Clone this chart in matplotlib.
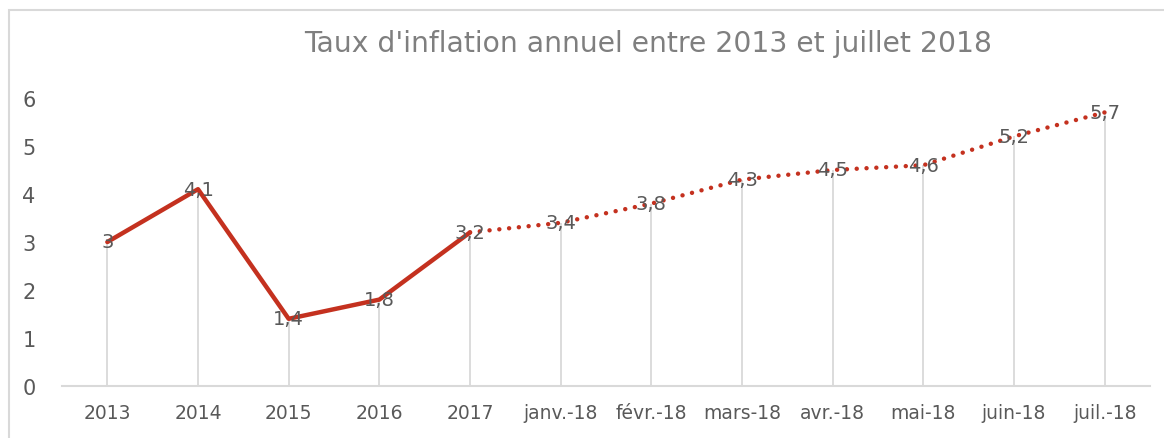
import matplotlib
matplotlib.use("Agg")
import matplotlib.pyplot as plt
from matplotlib.patches import Rectangle

categories = ["2013", "2014", "2015", "2016", "2017", "janv.-18", "févr.-18",
              "mars-18", "avr.-18", "mai-18", "juin-18", "juil.-18"]
values = [3, 4.1, 1.4, 1.8, 3.2, 3.4, 3.8, 4.3, 4.5, 4.6, 5.2, 5.7]
labels = ["3", "4,1", "1,4", "1,8", "3,2", "3,4", "3,8", "4,3", "4,5", "4,6", "5,2", "5,7"]
title = "Taux d'inflation annuel entre 2013 et juillet 2018"
split_index = 4  # solid up to 2017, dotted afterwards

W, H = 1164, 439
fig = plt.figure(figsize=(W / 100, H / 100), dpi=100)
plt.rcParams['font.family'] = ['DejaVu Sans']

# outer border
fig.patches.append(Rectangle((8.5 / W, -0.05), 1.2, (H - 10.5) / H + 0.05,
                             transform=fig.transFigure, fill=False,
                             edgecolor="#D9D9D9", linewidth=1.5))

ax = fig.add_axes([62 / W, 1 - 387 / H, (1150 - 62) / W, (387 - 99) / H])
x = list(range(len(categories)))
red = "#C4311F"
line_gray = "#D9D9D9"
text_gray = "#595959"

# drop lines
ax.vlines(x, 0, values, color=line_gray, linewidth=1.3, zorder=1)

ax.plot(x[:split_index + 1], values[:split_index + 1], color=red, linewidth=3.2,
        solid_capstyle="round", solid_joinstyle="round", zorder=3)
ax.plot(x[split_index:], values[split_index:], color=red, linewidth=3.2,
        linestyle=(0, (0.01, 2.2)), dash_capstyle="round", zorder=3)

for xi, v, lab in zip(x, values, labels):
    ax.text(xi, v, lab, ha="center", va="center", fontsize=14,
            color=text_gray, zorder=4)

ax.set_xlim(-0.5, len(categories) - 0.5)
ax.set_ylim(0, 6)
ax.set_xticks(x)
ax.set_xticklabels(categories, fontsize=13.5, color=text_gray)
ax.set_yticks(range(0, 7))
ax.set_yticklabels([str(i) for i in range(0, 7)], fontsize=15, color=text_gray)
ax.tick_params(axis="both", length=0)
ax.tick_params(axis="x", pad=12)
ax.tick_params(axis="y", pad=19)
for s in ["top", "right", "left"]:
    ax.spines[s].set_visible(False)
ax.spines["bottom"].set_color(line_gray)
ax.spines["bottom"].set_linewidth(1.5)
ax.patch.set_alpha(0)

fig.text((303 + 993) / 2 / W, 1 - 44 / H, title, ha="center", va="center",
         fontsize=20.3, color="#7F7F7F")

fig.savefig("out.png", dpi=100)
